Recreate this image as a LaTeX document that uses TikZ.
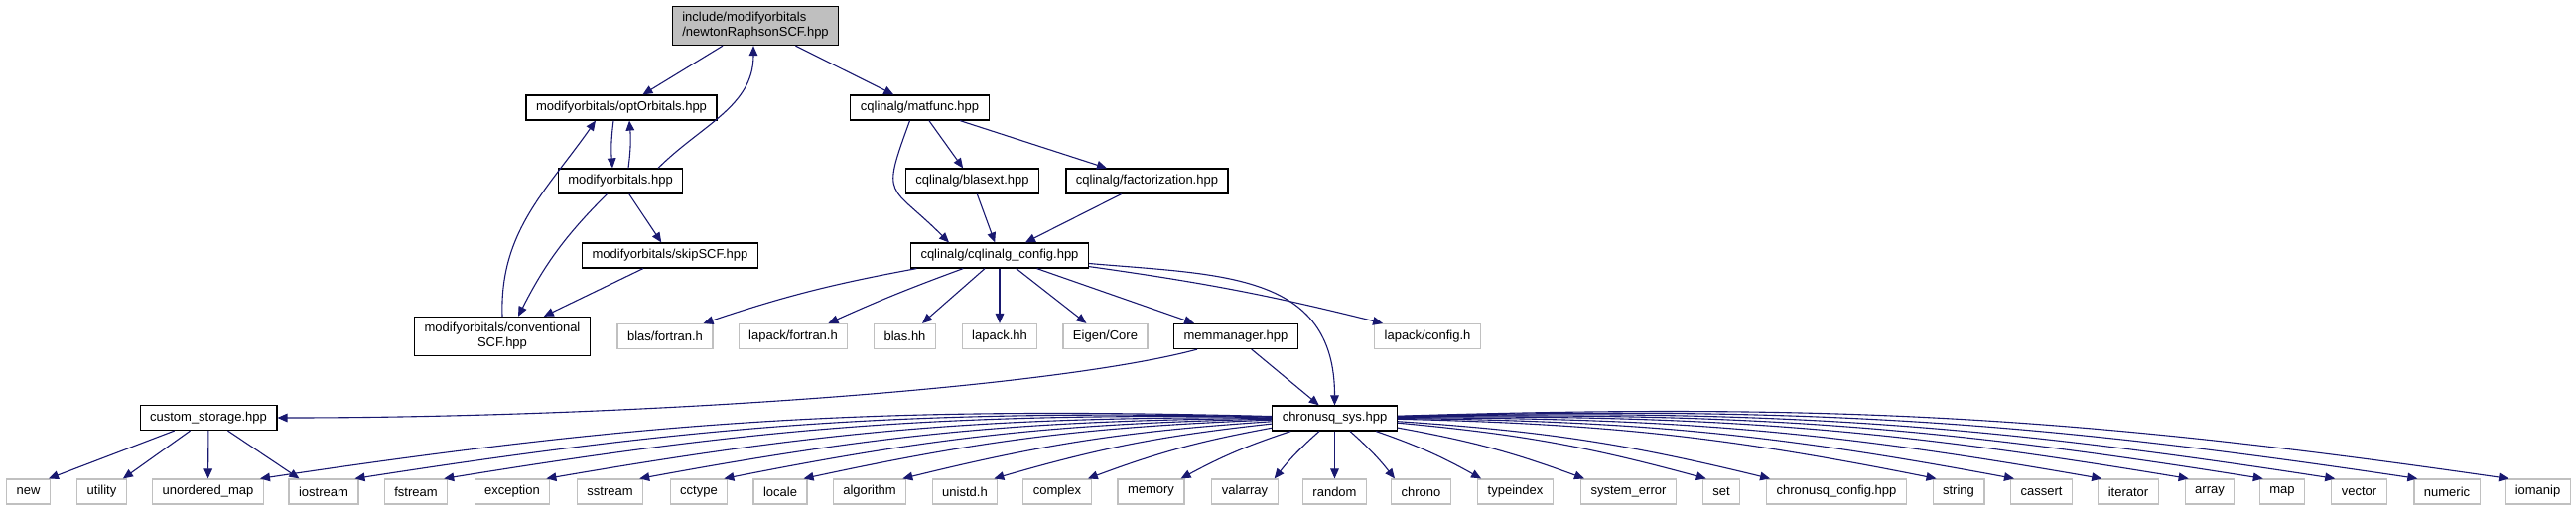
\documentclass[tikz,border=0pt]{standalone}
\usepackage{fontspec}
\setmainfont{Liberation Sans}
\usepackage{tikz}
\usetikzlibrary{arrows.meta, calc}
\definecolor{lien}{HTML}{191970}
\definecolor{grisfond}{HTML}{BFBFBF}
\definecolor{grisbord}{HTML}{C0C0C0}
\tikzset{
  fichier/.style={rectangle, draw=black, fill=white, line width=0.6pt,
    font=\fontsize{6.5}{7.5}\selectfont, minimum height=12.5pt, inner xsep=5pt,
    inner ysep=3pt, align=center},
  racine/.style={fichier, fill=grisfond, align=left},
  externe/.style={fichier, draw=grisbord},
  fleche/.style={-{Triangle[length=5pt, width=4.3pt]}, color=lien, line width=0.55pt}
}

\begin{document}
\begin{tikzpicture}[x=0.5pt, y=0.5pt]
    \useasboundingbox (0,0) rectangle (2595,-515);

    % Fichier racine et modifyorbitals
    \node[racine] (root) at (761,-26) {include/modifyorbitals\\/newtonRaphsonSCF.hpp};
    \node[fichier] (opt) at (626,-108.5) {modifyorbitals/optOrbitals.hpp};
    \node[fichier] (modorb) at (625,-182.5) {modifyorbitals.hpp};
    \node[fichier] (skip) at (675,-257.5) {modifyorbitals/skipSCF.hpp};
    \node[fichier] (conv) at (506,-339) {modifyorbitals/conventional\\SCF.hpp};

    % cqlinalg
    \node[fichier] (matfunc) at (926.5,-108.5) {cqlinalg/matfunc.hpp};
    \node[fichier] (blasext) at (979.5,-182.5) {cqlinalg/blasext.hpp};
    \node[fichier] (factor) at (1155.5,-182.5) {cqlinalg/factorization.hpp};
    \node[fichier] (config) at (1007,-257.5) {cqlinalg/cqlinalg\_config.hpp};

    % Rangee du milieu
    \node[externe] (blasf) at (670,-339) {blas/fortran.h};
    \node[externe] (lapackf) at (799,-339) {lapack/fortran.h};
    \node[externe] (blashh) at (911.5,-339) {blas.hh};
    \node[externe] (lapackhh) at (1007,-339) {lapack.hh};
    \node[externe] (eigen) at (1113.5,-339) {Eigen/Core};
    \node[fichier] (memman) at (1245,-339) {memmanager.hpp};
    \node[externe] (lapackcfg) at (1438,-339) {lapack/config.h};

    \node[fichier] (custom) at (210,-421) {custom\_storage.hpp};
    \node[fichier] (sys) at (1344.5,-421.5) {chronusq\_sys.hpp};

    % En-tetes standard
    \foreach \nom/\txt/\x in {new/new/28.5, utility/utility/102.5,
        umap/unordered\_map/209.5, iostream/iostream/326, fstream/fstream/419,
        exception/exception/516, sstream/sstream/614.5, cctype/cctype/704,
        locale/locale/786, algorithm/algorithm/876, unistd/unistd.h/972,
        complex/complex/1065, memory/memory/1159.5, valarray/valarray/1254,
        random/random/1344.5, chrono/chrono/1431.5, typeindex/typeindex/1526.5,
        syserr/system\_error/1640.5, set/set/1734,
        cqconfig/chronusq\_config.hpp/1850, string/string/1973,
        cassert/cassert/2056.5, iterator/iterator/2144, array/array/2226,
        map/map/2299, vector/vector/2376.5, numeric/numeric/2465,
        iomanip/iomanip/2556.5}
      \node[externe] (\nom) at (\x,-495.5) {\txt};

    % Liens du haut
    \draw[fleche] (root) -- (opt);
    \draw[fleche] (root) -- (matfunc);
    \draw[fleche] ($(opt.south)+(-8,0)$) to[bend right=6] ($(modorb.north)+(-8,0)$);
    \draw[fleche] ($(modorb.north)+(8,0)$) to[bend right=6] ($(opt.south)+(8,0)$);
    \draw[fleche] ($(modorb.north)+(38,0)$) to[out=45, in=-90] ($(root.south)+(-2,0)$);
    \draw[fleche] (modorb) to[bend right=9] ($(conv.north)+(16,0)$);
    \draw[fleche] (modorb) -- (skip);
    \draw[fleche] (skip) -- (conv);
    \draw[fleche] (conv.north) to[out=92, in=-125] ($(opt.south)+(-26,0)$);

    \draw[fleche] (matfunc) -- (blasext);
    \draw[fleche] (matfunc) -- (factor);
    \draw[fleche] ($(matfunc.south)+(-10,0)$) to[out=-110, in=135, looseness=1.7] ($(config.north)+(-51,0)$);
    \draw[fleche] (blasext) -- (config);
    \draw[fleche] (factor) -- (config);

    % Liens de cqlinalg_config
    \draw[fleche] (config) to[bend right=4] ($(blasf.north east)+(-10,0)$);
    \draw[fleche] (config) to[bend right=2] ($(lapackf.north east)+(-20,0)$);
    \draw[fleche] (config) -- ($(blashh.north east)+(-14,0)$);
    \draw[fleche] (config) -- (lapackhh);
    \draw[fleche] (config) -- ($(eigen.north west)+(24,0)$);
    \draw[fleche] (config) -- ($(memman.north west)+(21,0)$);
    \draw[fleche] (config) to[bend left=3] ($(lapackcfg.north west)+(9,0)$);
    \draw[fleche] ($(config.east)+(0,-8)$) to[out=-5, in=90, looseness=1.2] (sys.north);

    \draw[fleche] (memman) -- (sys);
    \draw[fleche] ($(memman.south west)+(24,0)$) .. controls +(-150,-40) and +(350,0) .. (custom.east);

    % custom_storage
    \draw[fleche] (custom) -- ($(new.north east)+(-2,0)$);
    \draw[fleche] (custom) -- ($(utility.north east)+(-4,0)$);
    \draw[fleche] (custom) -- (umap);
    \draw[fleche] (custom) -- ($(iostream.north west)+(11,0)$);

    % chronusq_sys
    \foreach \nom in {umap, iostream, fstream, exception, sstream, cctype,
        locale, algorithm, unistd, complex, memory, valarray}
      \draw[fleche] (sys) to[bend right=5] ($(\nom.north east)+(-4,0)$);
    \draw[fleche] (sys) -- (random);
    \foreach \nom in {chrono, typeindex, syserr, set, cqconfig, string, cassert,
        iterator, array, map, vector, numeric, iomanip}
      \draw[fleche] (sys) to[bend left=5] ($(\nom.north west)+(4,0)$);
\end{tikzpicture}
\end{document}
